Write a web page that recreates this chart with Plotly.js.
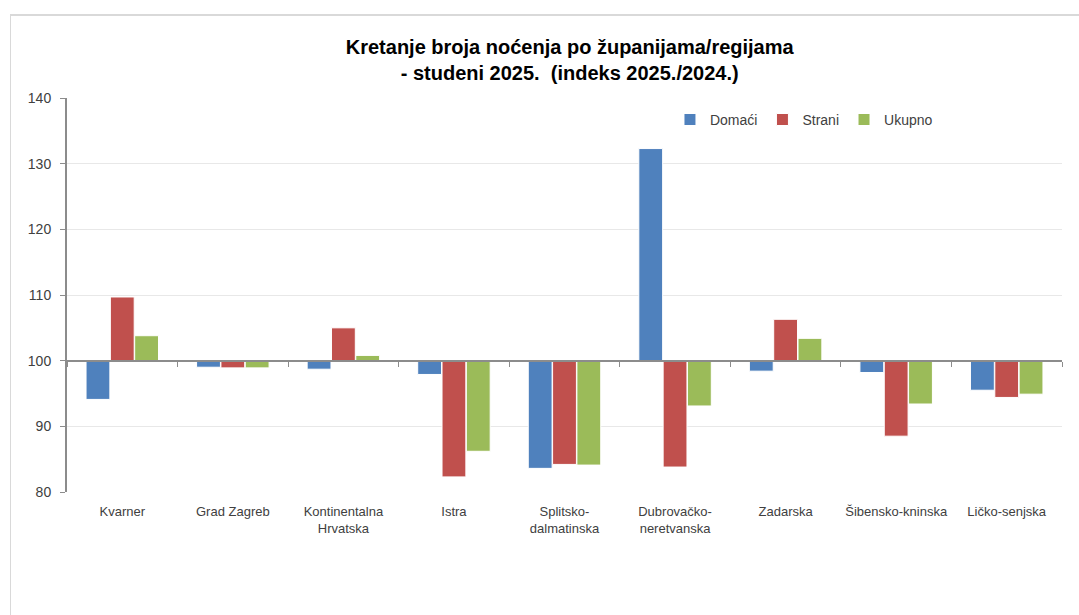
<!DOCTYPE html>
<html>
<head>
<meta charset="utf-8">
<script src="https://cdn.plot.ly/plotly-3.0.1.min.js"></script>
<style>
  body { margin: 0; background: #fff; }
  #frame { position: absolute; left: 10px; top: 14px; width: 1080px; height: 620px;
           border-left: 1px solid #d9d9d9; border-top: 2px solid #d9d9d9; }
  #chart { position: absolute; left: 0; top: 0; width: 1079px; height: 615px; }
</style>
</head>
<body>
<div id="frame"></div>
<div id="chart"></div>
<script>
// categories (regions)
const regions = ['Kvarner', 'Grad Zagreb', 'Kontinentalna<br>Hrvatska', 'Istra',
    'Splitsko-<br>dalmatinska', 'Dubrovačko-<br>neretvanska', 'Zadarska',
    'Šibensko-kninska', 'Ličko-senjska'];

// index 2025./2024.
const domaci = [94.1, 99.0, 98.7, 97.9, 83.6, 132.3, 98.4, 98.2, 95.5];
const strani = [109.7, 98.9, 105.0, 82.3, 84.2, 83.8, 106.3, 88.5, 94.4];
const ukupno = [103.8, 98.9, 100.8, 86.2, 84.1, 93.1, 103.4, 93.4, 94.9];

const baseline = 100;
const yTicks = [80, 90, 100, 110, 120, 130, 140];

function series(name, vals, color) {
    return {
        type: 'bar',
        name: name,
        x: regions,
        y: vals.map(v => v - baseline),
        base: baseline,
        customdata: vals,
        hovertemplate: '%{customdata}<extra>' + name + '</extra>',
        marker: { color: color, line: { color: '#ffffff', width: 1 } }
    };
}

const data = [
    series('Domaći', domaci, '#4f81bd'),
    series('Strani', strani, '#c0504d'),
    series('Ukupno', ukupno, '#9bbb59'),
    // helper trace so the axis line at 100 gets its category ticks
    { type: 'scatter', x: regions, y: regions.map(() => null), xaxis: 'x2',
      showlegend: false, hoverinfo: 'skip' }
];

const layout = {
    width: 1079,
    height: 615,
    margin: { l: 67, r: 17, t: 98, b: 123 },
    paper_bgcolor: 'rgba(0,0,0,0)',
    plot_bgcolor: 'rgba(0,0,0,0)',
    font: { family: 'Liberation Sans, Arial, sans-serif', color: '#404040', size: 13 },
    title: {
        text: '<b>Kretanje broja noćenja po županijama/regijama<br>- studeni 2025.  (indeks 2025./2024.)</b>',
        font: { size: 20, color: '#000000' },
        x: 0.528, xanchor: 'center',
        y: 0.912, yanchor: 'top'
    },
    barmode: 'group',
    bargap: 0.34,
    bargroupgap: 0.02,
    showlegend: true,
    legend: {
        orientation: 'h',
        x: 0.606, y: 0.985, xanchor: 'left', yanchor: 'top',
        font: { size: 14, color: '#404040' },
        itemwidth: 30,
        bgcolor: 'rgba(0,0,0,0)'
    },
    xaxis: {
        type: 'category',
        categoryarray: regions,
        showline: false,
        ticks: '',
        showgrid: false,
        zeroline: false,
        ticklabelstandoff: 10,
        tickfont: { size: 13, color: '#404040' },
        fixedrange: true
    },
    xaxis2: {
        type: 'category',
        categoryarray: regions,
        overlaying: 'x',
        matches: 'x',
        anchor: 'free',
        position: (baseline - yTicks[0]) / (yTicks[yTicks.length - 1] - yTicks[0]),
        side: 'bottom',
        showline: true,
        linecolor: '#8c8c8c',
        linewidth: 2,
        ticks: 'outside',
        tickson: 'boundaries',
        ticklen: 5,
        tickcolor: '#8c8c8c',
        showticklabels: false,
        showgrid: false,
        zeroline: false
    },
    yaxis: {
        range: [yTicks[0], yTicks[yTicks.length - 1]],
        tickvals: yTicks,
        showline: true,
        linecolor: '#8c8c8c',
        linewidth: 2,
        ticks: 'outside',
        ticklen: 5,
        tickcolor: '#8c8c8c',
        gridcolor: '#e8e8e8',
        zeroline: false,
        ticklabelstandoff: 6,
        tickfont: { size: 14, color: '#404040' },
        fixedrange: true
    }
};

Plotly.newPlot('chart', data, layout, { displayModeBar: false, staticPlot: true });
</script>
</body>
</html>
